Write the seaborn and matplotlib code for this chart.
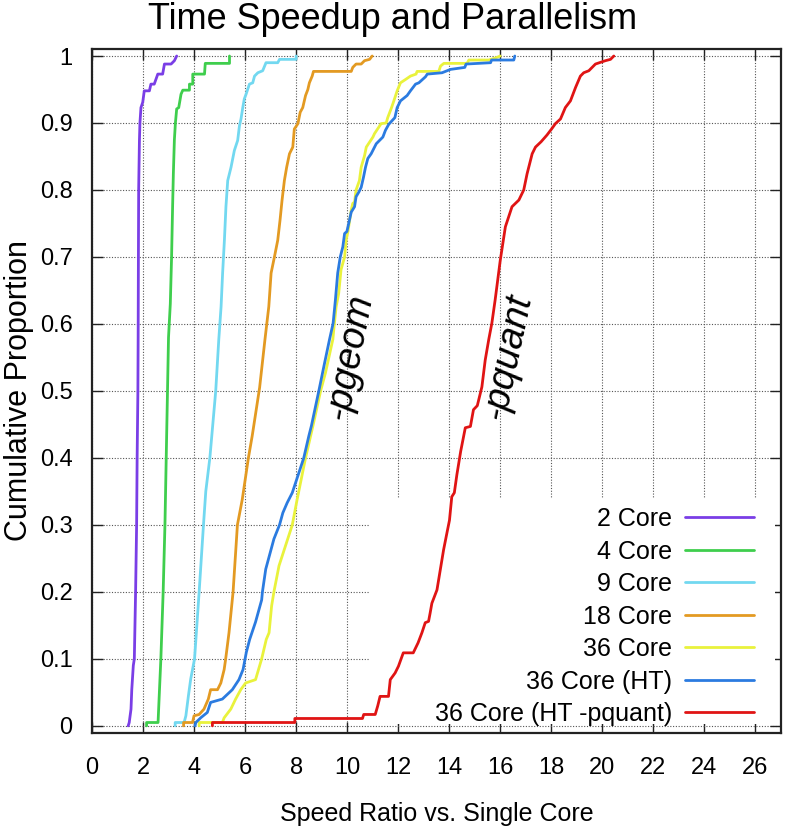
"""Cumulative speedup curves for several core counts."""
import matplotlib
matplotlib.use("Agg")
import matplotlib.pyplot as plt
import pandas as pd
import seaborn as sns
from matplotlib.patches import Rectangle
from matplotlib.ticker import FuncFormatter, MultipleLocator

labels = ["2 Core", "4 Core", "9 Core", "18 Core", "36 Core", "36 Core (HT)", "36 Core (HT -pquant)"]
colors = ["#7a3ee6", "#3fce4d", "#72d8f0", "#e39a22", "#e9f23c", "#2b7be0", "#e01414"]

x_2core = [1.42, 1.46, 1.53, 1.56, 1.62, 1.66, 1.71, 1.75, 1.77, 1.80, 1.81, 1.82, 1.83, 1.86,
           1.88, 1.92, 1.99, 2.05, 2.25, 2.31, 2.44, 2.58, 2.77, 2.84, 3.10, 3.23, 3.32]
y_2core = [0.0, 0.005, 0.025, 0.054, 0.09, 0.10, 0.20, 0.30, 0.40, 0.50, 0.58, 0.70, 0.80, 0.874,
           0.90, 0.923, 0.931, 0.948, 0.948, 0.958, 0.958, 0.973, 0.973, 0.988, 0.988, 0.993, 1.0]

x_4core = [2.14, 2.14, 2.59, 2.63, 2.70, 2.79, 2.86, 2.91, 2.96, 3.00, 3.07, 3.12, 3.16, 3.19,
           3.23, 3.27, 3.32, 3.40, 3.49, 3.56, 3.82, 3.82, 3.95, 3.95, 4.41, 4.44, 5.39, 5.39]
y_4core = [0.0, 0.005, 0.005, 0.04, 0.10, 0.20, 0.30, 0.40, 0.50, 0.58, 0.63, 0.70, 0.775, 0.825,
           0.875, 0.90, 0.921, 0.923, 0.943, 0.949, 0.949, 0.958, 0.958, 0.973, 0.973, 0.989, 0.989, 1.0]

x_9core = [3.26, 3.26, 3.61, 3.68, 3.78, 3.87, 4.02, 4.20, 4.37, 4.46, 4.62, 4.85, 4.97, 5.06,
           5.12, 5.19, 5.25, 5.32, 5.45, 5.58, 5.71, 5.78, 5.84, 5.91, 5.97, 6.04, 6.17, 6.30,
           6.37, 6.50, 6.69, 6.82, 7.28, 7.35, 8.00, 8.00]
y_9core = [0.0, 0.005, 0.005, 0.015, 0.045, 0.07, 0.10, 0.20, 0.30, 0.35, 0.40, 0.50, 0.577, 0.626,
           0.676, 0.725, 0.775, 0.814, 0.834, 0.859, 0.874, 0.896, 0.906, 0.923, 0.936, 0.943, 0.958, 0.960,
           0.970, 0.975, 0.978, 0.990, 0.990, 0.995, 0.995, 1.0]

x_18core = [3.59, 3.59, 3.94, 4.00, 4.20, 4.39, 4.56, 4.65, 4.92, 5.05, 5.18, 5.24, 5.37, 5.53,
            5.70, 5.89, 6.13, 6.28, 6.57, 6.78, 6.93, 7.02, 7.15, 7.28, 7.37, 7.45, 7.54, 7.63,
            7.74, 7.87, 7.93, 8.07, 8.16, 8.26, 8.37, 8.46, 8.52, 8.63, 8.68, 10.16, 10.22, 10.35,
            10.55, 10.68, 10.88, 10.98]
y_18core = [0.0, 0.005, 0.005, 0.015, 0.017, 0.025, 0.04, 0.054, 0.054, 0.064, 0.084, 0.10, 0.139, 0.20,
            0.30, 0.338, 0.40, 0.433, 0.505, 0.577, 0.626, 0.676, 0.70, 0.725, 0.755, 0.785, 0.814, 0.834,
            0.854, 0.864, 0.891, 0.899, 0.916, 0.923, 0.941, 0.950, 0.960, 0.970, 0.977, 0.977, 0.983, 0.988,
            0.988, 0.993, 0.995, 1.0]

x_36core = [4.20, 4.20, 5.11, 5.18, 5.44, 5.63, 5.83, 6.02, 6.41, 6.65, 6.83, 6.94, 7.04, 7.13,
            7.33, 7.85, 8.04, 8.37, 8.66, 8.96, 9.15, 9.44, 9.50, 9.57, 9.67, 9.76, 9.90, 9.96,
            10.03, 10.16, 10.22, 10.29, 10.35, 10.48, 10.55, 10.68, 10.75, 11.01, 11.07, 11.33, 11.53,
            11.59, 11.66, 11.74, 11.83, 11.96, 12.09, 12.29, 12.48, 12.70, 12.74, 13.59, 13.66, 13.79,
            14.70, 14.77, 15.55, 15.80, 16.00]
y_36core = [0.0, 0.005, 0.005, 0.012, 0.025, 0.040, 0.054, 0.064, 0.069, 0.10, 0.129, 0.139, 0.179, 0.20,
            0.239, 0.30, 0.338, 0.40, 0.448, 0.50, 0.527, 0.577, 0.601, 0.626, 0.646, 0.681, 0.70, 0.725,
            0.738, 0.770, 0.780, 0.782, 0.80, 0.814, 0.834, 0.851, 0.864, 0.879, 0.884, 0.899, 0.900,
            0.908, 0.915, 0.923, 0.933, 0.948, 0.960, 0.965, 0.970, 0.973, 0.977, 0.977, 0.985, 0.989,
            0.989, 0.994, 0.994, 0.997, 1.0]

x_36ht = [4.04, 4.07, 4.26, 4.52, 4.65, 5.11, 5.50, 5.76, 5.92, 6.05, 6.18, 6.41, 6.65, 6.68,
          6.81, 7.13, 7.35, 7.48, 7.65, 7.85, 8.11, 8.30, 8.50, 8.60, 8.89, 9.09, 9.31, 9.45,
          9.54, 9.63, 9.73, 9.83, 9.90, 9.99, 10.09, 10.16, 10.29, 10.35, 10.46, 10.55, 10.64,
          10.72, 10.81, 10.94, 11.14, 11.40, 11.50, 11.63, 11.87, 11.96, 12.09, 12.35, 12.48, 12.68,
          12.81, 13.07, 13.14, 13.72, 14.05, 14.61, 14.66, 15.62, 15.66, 16.53, 16.57]
y_36ht = [0.0, 0.005, 0.012, 0.020, 0.035, 0.040, 0.054, 0.069, 0.084, 0.11, 0.129, 0.155, 0.188, 0.20,
          0.234, 0.279, 0.30, 0.318, 0.333, 0.348, 0.378, 0.40, 0.433, 0.448, 0.50, 0.537, 0.577, 0.601,
          0.636, 0.676, 0.70, 0.715, 0.735, 0.738, 0.755, 0.767, 0.775, 0.790, 0.797, 0.804, 0.819,
          0.834, 0.847, 0.854, 0.869, 0.879, 0.889, 0.898, 0.908, 0.923, 0.933, 0.941, 0.948, 0.958,
          0.960, 0.969, 0.973, 0.975, 0.980, 0.983, 0.988, 0.990, 0.994, 0.994, 1.0]

x_pquant = [4.72, 4.72, 7.95, 7.95, 10.60, 10.65, 11.10, 11.20, 11.29, 11.62, 11.69, 11.88, 12.01, 12.20,
            12.59, 12.78, 12.93, 13.06, 13.19, 13.25, 13.32, 13.52, 13.65, 13.78, 13.91, 14.01, 14.10,
            14.20, 14.30, 14.45, 14.63, 14.83, 14.95, 15.10, 15.28, 15.41, 15.55, 15.67, 15.80, 16.00,
            16.20, 16.46, 16.73, 16.92, 17.05, 17.25, 17.38, 17.60, 17.83, 18.03, 18.16, 18.36, 18.55,
            18.75, 18.95, 19.14, 19.27, 19.47, 19.73, 20.12, 20.32, 20.45]
y_pquant = [0.0, 0.005, 0.005, 0.011, 0.011, 0.017, 0.017, 0.030, 0.044, 0.044, 0.069, 0.079, 0.089, 0.109,
            0.109, 0.124, 0.139, 0.154, 0.156, 0.168, 0.183, 0.203, 0.233, 0.263, 0.288, 0.307, 0.342,
            0.348, 0.375, 0.410, 0.445, 0.447, 0.472, 0.478, 0.506, 0.546, 0.577, 0.601, 0.636, 0.695,
            0.745, 0.775, 0.785, 0.800, 0.824, 0.854, 0.864, 0.872, 0.882, 0.892, 0.899, 0.906, 0.923,
            0.933, 0.953, 0.970, 0.975, 0.978, 0.988, 0.993, 0.995, 1.0]

xs = [x_2core, x_4core, x_9core, x_18core, x_36core, x_36ht, x_pquant]
ys = [y_2core, y_4core, y_9core, y_18core, y_36core, y_36ht, y_pquant]
df = pd.concat(
    [pd.DataFrame({"speedup": x, "proportion": y, "config": lab}) for lab, x, y in zip(labels, xs, ys)],
    ignore_index=True,
)

sns.set_style("white")
plt.rcParams["font.family"] = ["Liberation Sans", "DejaVu Sans"]
plt.rcParams["text.color"] = "black"
plt.rcParams["axes.labelcolor"] = "black"
plt.rcParams["xtick.color"] = "black"
plt.rcParams["ytick.color"] = "black"

fig = plt.figure(figsize=(7.86, 8.30), dpi=100)
ax = fig.add_axes([0.117, 0.117, 0.8766, 0.824])

sns.lineplot(data=df, x="speedup", y="proportion", hue="config", hue_order=labels,
             palette=dict(zip(labels, colors)), estimator=None, sort=False, lw=2.0, ax=ax)

ax.set_xlim(0, 27)
ax.set_ylim(-0.0105, 1.0105)
ax.xaxis.set_major_locator(MultipleLocator(2))
ax.yaxis.set_major_locator(MultipleLocator(0.1))
ax.yaxis.set_major_formatter(FuncFormatter(lambda v, _: f"{v:.1f}".rstrip("0").rstrip(".") if abs(v) > 1e-9 else "0"))
ax.tick_params(direction="in", length=8, width=1, color="#222222",
               bottom=True, top=True, left=True, right=True)
ax.tick_params(axis="x", pad=17, labelsize=17)
ax.tick_params(axis="y", pad=14, labelsize=17)

ax.set_axisbelow(True)
ax.grid(True, color="#555555", linestyle=(0, (1, 1.5)), linewidth=0.8)
for sp in ax.spines.values():
    sp.set_color("#222222")
    sp.set_linewidth(1.6)

# white box behind the key hides the grid there
ax.add_patch(Rectangle((0.403, 0.013), 0.588, 0.329, transform=ax.transAxes,
                       facecolor="white", edgecolor="none", zorder=1))

ax.set_xlabel("Speed Ratio vs. Single Core", fontsize=18, labelpad=17)
ax.set_ylabel("Cumulative Proportion", fontsize=22, labelpad=4)
fig.suptitle("Time Speedup and Parallelism", x=0.5, y=0.976, va="center", fontsize=26)

ax.text(10.1, 0.55, "-pgeom", rotation=79, style="italic", fontsize=27,
        ha="center", va="center", rotation_mode="anchor")
ax.text(16.3, 0.55, "-pquant", rotation=78, style="italic", fontsize=27,
        ha="center", va="center", rotation_mode="anchor")

sns.move_legend(ax, "upper right", bbox_to_anchor=(0.961, 0.33), title=None, frameon=False,
                markerfirst=False, fontsize=18, handlelength=2.76, handletextpad=0.52,
                labelspacing=0.34, borderaxespad=0, borderpad=0)

fig.savefig("out.png", dpi=100)
